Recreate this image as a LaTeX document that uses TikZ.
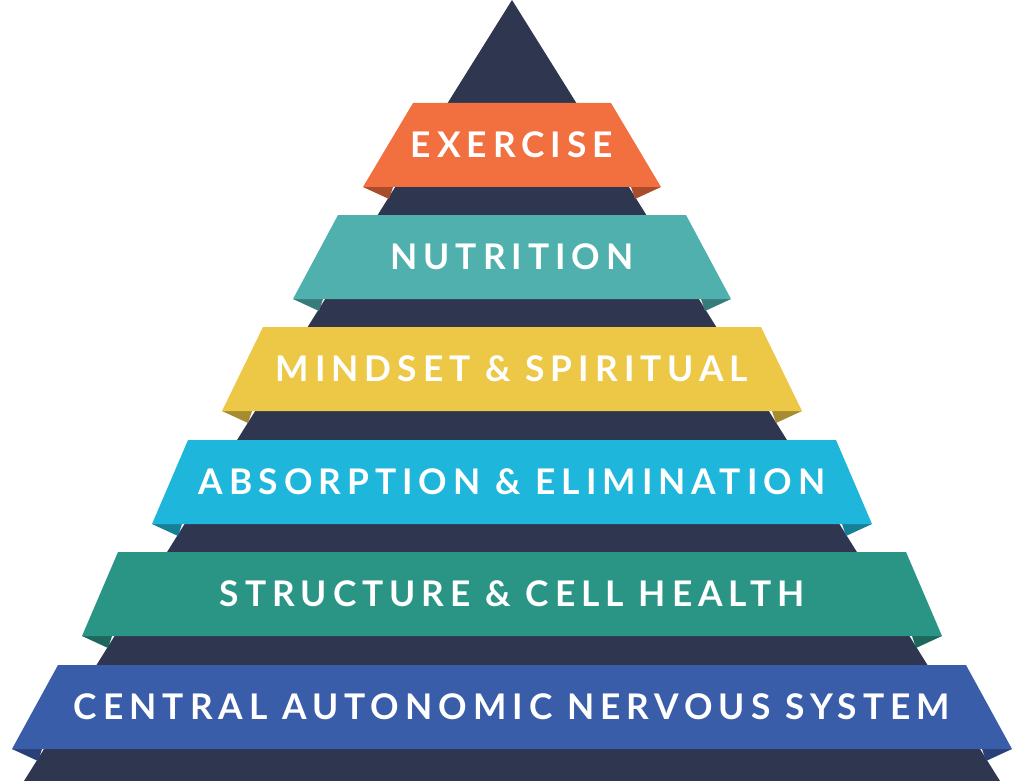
\documentclass[tikz,border=0pt]{standalone}
\usepackage{fontspec}
\setmainfont{Lato}[LetterSpace=17]
\definecolor{pyrnavy}{HTML}{2E3650}
\definecolor{cexercise}{HTML}{F26F3F}
\definecolor{cnutrition}{HTML}{4FB0AE}
\definecolor{cmindset}{HTML}{ECC846}
\definecolor{cabsorb}{HTML}{1FB6DC}
\definecolor{cstructure}{HTML}{2A9585}
\definecolor{ccentral}{HTML}{3A5DAA}
\tikzset{
  band label/.style = {text=white, font=\bfseries\fontsize{26.5}{26.5}\selectfont}
}
\begin{document}
\begin{tikzpicture}[x=0.75pt,y=-0.75pt]
  \useasboundingbox (0,0) rectangle (1024,781);
  % pyramid
  \fill[pyrnavy] (512,0) -- (1000,781) -- (24,781) -- cycle;
  % bands: top y / top-left x / bottom-left x / colour / text
  \foreach \ty/\tx/\bx/\col/\txt in {%
      103/413/363/cexercise/EXERCISE,
      215/338/293/cnutrition/NUTRITION,
      327/263/222/cmindset/MINDSET \& SPIRITUAL,
      440/188/152/cabsorb/ABSORPTION \& ELIMINATION,
      552/118/82/cstructure/STRUCTURE \& CELL HEALTH,
      665/58/12/ccentral/CENTRAL AUTONOMIC NERVOUS SYSTEM} {%
    \pgfmathsetmacro{\by}{\ty+84}
    % folds
    \fill[\col!70!black] (\bx,\by) -- ++(30,0) -- ++(-4,12) -- cycle;
    \fill[\col!70!black] ({1024-\bx},\by) -- ++(-30,0) -- ++(4,12) -- cycle;
    \fill[\col] (\tx,\ty) -- ({1024-\tx},\ty) -- ({1024-\bx},\by) -- (\bx,\by) -- cycle;
    \node[band label] (b\ty) at (512,{\ty+42}) {\txt};
  }
\end{tikzpicture}
\end{document}
